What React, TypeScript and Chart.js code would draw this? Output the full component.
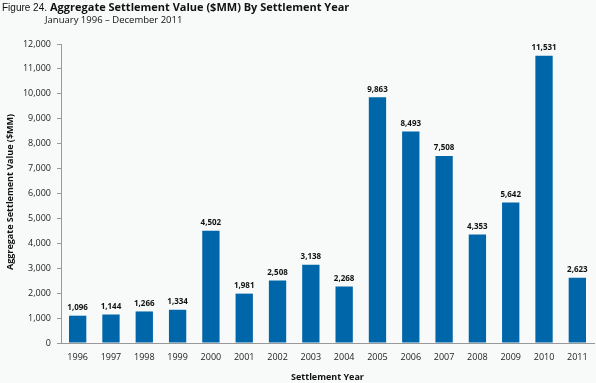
import React, { useEffect, useRef } from "react";
import { Chart, registerables } from "chart.js";

Chart.register(...registerables);

const years = ["1996","1997","1998","1999","2000","2001","2002","2003","2004","2005","2006","2007","2008","2009","2010","2011"];
const values = [1096,1144,1266,1334,4502,1981,2508,3138,2268,9863,8493,7508,4353,5642,11531,2623];
const yTicks = [0,1000,2000,3000,4000,5000,6000,7000,8000,9000,10000,11000,12000];

const FONT = "'Open Sans', 'Noto Sans', sans-serif";
const fmt = (v: number) => v.toLocaleString("en-US");

const decor = {
  id: "decor",
  beforeDraw(chart: any) {
    const ctx = chart.ctx;
    ctx.save();
    ctx.fillStyle = "#f8fafa";
    ctx.fillRect(0, 0, chart.width, chart.height);
    ctx.restore();
  },
  afterDraw(chart: any) {
    const ctx = chart.ctx;
    const { chartArea } = chart;
    ctx.save();
    ctx.fillStyle = "#111";
    ctx.textBaseline = "middle";
    ctx.textAlign = "left";
    ctx.font = `10px 'Liberation Sans', sans-serif`;
    ctx.fillText("Figure 24.", 2, 8);
    const w = ctx.measureText("Figure 24.").width;
    ctx.font = `bold 11px ${FONT}`;
    ctx.fillText("Aggregate Settlement Value ($MM) By Settlement Year", Math.max(46, 2 + w + 3), 8);
    ctx.font = `9.5px ${FONT}`;
    ctx.fillText("January 1996 \u2013 December 2011", 45, 20);

    ctx.font = `bold 9px ${FONT}`;
    ctx.textAlign = "center";
    ctx.fillText("Settlement Year", (chartArea.left + chartArea.right) / 2, 377);
    ctx.save();
    ctx.translate(10, 192);
    ctx.rotate(-Math.PI / 2);
    ctx.fillText("Aggregate Settlement Value ($MM)", 0, 0);
    ctx.restore();

    // data labels
    const meta = chart.getDatasetMeta(0);
    ctx.font = `bold 8px ${FONT}`;
    ctx.textBaseline = "bottom";
    meta.data.forEach((bar: any, i: number) => {
      ctx.fillText(fmt(values[i]), bar.x, bar.y - 4);
    });
    ctx.restore();
  },
};

export default function App() {
  const ref = useRef<HTMLCanvasElement>(null);
  useEffect(() => {
    document.body.style.margin = "0";
    const chart = new Chart(ref.current!, {
      type: "bar",
      data: {
        labels: years,
        datasets: [{
          data: values,
          backgroundColor: "#0066aa",
          barPercentage: 0.52,
          categoryPercentage: 1,
        }],
      },
      options: {
        animation: false,
        responsive: false,
        layout: { padding: { top: 44, right: 2, left: 0, bottom: 0 } },
        plugins: { legend: { display: false }, tooltip: { enabled: false } },
        scales: {
          x: {
            grid: { display: false, drawOnChartArea: false, drawTicks: true, tickLength: 4, color: "#999", offset: true },
            border: { color: "#999" },
            ticks: { color: "#222", font: { family: FONT, size: 9 }, padding: 5, maxRotation: 0 },
            afterFit: (s: any) => { s.height = 40; },
          },
          y: {
            min: 0,
            max: 12000,
            afterBuildTicks: (s: any) => { s.ticks = yTicks.map((v) => ({ value: v })); },
            grid: { drawOnChartArea: false, drawTicks: true, tickLength: 4, color: "#999" },
            border: { color: "#999" },
            ticks: { color: "#222", font: { family: FONT, size: 9 }, padding: 6, callback: (v: any) => fmt(Number(v)) },
            afterFit: (s: any) => { s.width = 61; },
          },
        },
      },
      plugins: [decor],
    });
    return () => chart.destroy();
  }, []);
  return <canvas ref={ref} width={596} height={383} style={{ display: "block" }} />;
}
